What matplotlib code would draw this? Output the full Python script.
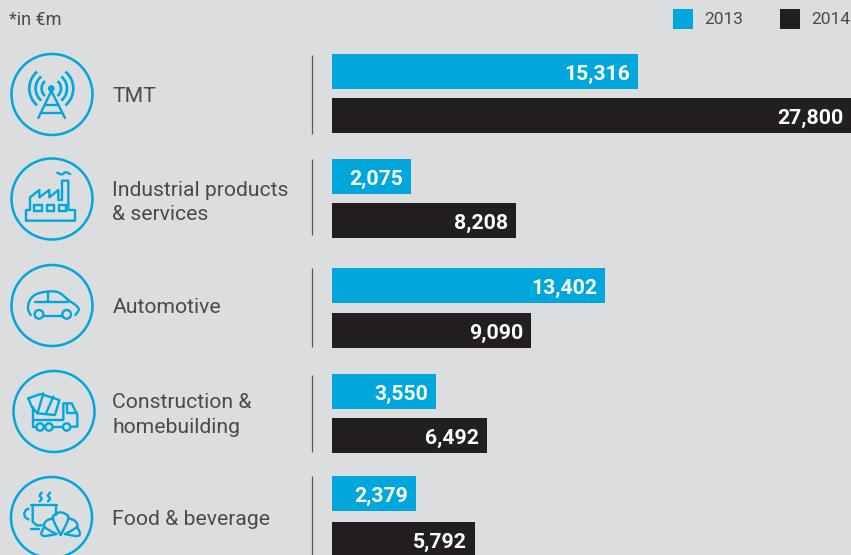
import numpy as np
import matplotlib
matplotlib.use('Agg')
import matplotlib.pyplot as plt
from matplotlib.patches import Circle, Arc, Rectangle

categories = ['TMT', 'Industrial products\n& services', 'Automotive',
              'Construction &\nhomebuilding', 'Food & beverage']
values_2013 = [15316, 2075, 13402, 3550, 2379]
values_2014 = [27800, 8208, 9090, 6492, 5792]
series_names = ['2013', '2014']

BLUE = '#00A7DD'
BLACK = '#231F20'
BG = '#DCDDDF'
TXT = '#4A4A4C'
W, H = 851, 555

plt.rcParams['font.family'] = ['Roboto', 'DejaVu Sans']

fig = plt.figure(figsize=(W / 100, H / 100), dpi=100, facecolor=BG)

# bars live in their own axes; the scale starts below zero so small bars stay readable
bar_left, px_per_unit = -2530, 0.01714
ax = fig.add_axes([332 / W, 0, (W - 332) / W, 1])
ax.set_xlim(bar_left, bar_left + (W - 332) / px_per_unit)
ax.set_ylim(H, 0)
ax.axis('off')

row_top = [54, 159, 268, 374, 476]
row_gap = [44, 44, 45, 44, 46]
bar_h = 35
for i in range(len(categories)):
    y13 = row_top[i] + bar_h / 2
    y14 = row_top[i] + row_gap[i] + bar_h / 2
    for y, v, c in ((y13, values_2013[i], BLUE), (y14, values_2014[i], BLACK)):
        ax.barh(y, v - bar_left, left=bar_left, height=bar_h, color=c, linewidth=0)
        ax.annotate(f'{v:,}', (v, y), xytext=(-8, -1), textcoords='offset pixels',
                    ha='right', va='center_baseline', color='white', fontsize=15.3,
                    fontweight='bold', annotation_clip=False)

# overlay in pixel coordinates for icons, rules and text
ov = fig.add_axes([0, 0, 1, 1], facecolor='none')
ov.set_xlim(0, W)
ov.set_ylim(H, 0)
ov.axis('off')

LW = 1.7


def line(pts, off=(0, 0), lw=LW, color=BLUE):
    p = np.array(pts, dtype=float) / 3 + np.array(off)
    ov.plot(p[:, 0], p[:, 1], color=color, lw=lw, solid_capstyle='round',
            solid_joinstyle='round')


def curve(pts, off=(0, 0), lw=LW, steps=12):
    # catmull-rom through the points, for the rounded outlines
    p = np.array(pts, dtype=float)
    p = np.vstack([p[0], p, p[-1]])
    out = []
    for i in range(1, len(p) - 2):
        for t in np.linspace(0, 1, steps, endpoint=False):
            out.append(0.5 * (2 * p[i] + (p[i + 1] - p[i - 1]) * t
                              + (2 * p[i - 1] - 5 * p[i] + 4 * p[i + 1] - p[i + 2]) * t ** 2
                              + (3 * p[i] - p[i - 1] - 3 * p[i + 1] + p[i + 2]) * t ** 3))
    out.append(p[-1])
    line(out, off, lw)


def wheel(x, y, r, off=(0, 0)):
    ov.add_patch(Circle((x / 3 + off[0], y / 3 + off[1]), r / 3, fill=False, ec=BLUE, lw=LW))


def squiggle(x0, y0, x1, y1, off=(0, 0), amp=4, n=4):
    # small wavy stroke for smoke and steam
    pts = []
    for k in range(n + 1):
        t = k / n
        s = amp if k % 2 else -amp
        dx, dy = (x1 - x0), (y1 - y0)
        L = np.hypot(dx, dy)
        pts.append((x0 + dx * t - dy / L * s, y0 + dy * t + dx / L * s))
    curve(pts, off)


# icon rings
for cx, cy in [(52, 94.5), (52, 199), (52, 305.5), (54, 411.5), (51.5, 517.5)]:
    ov.add_patch(Circle((cx, cy), 40.5, fill=False, ec=BLUE, lw=1.8))

# antenna
ov.add_patch(Circle((51.3, 88.5), 3.4, fc=BLUE, ec='none'))
for r in (9.7, 15.7, 22):
    for a, b in ((-50, 50), (130, 230)):
        ov.add_patch(Arc((51.3, 88.5), 2 * r, 2 * r, theta1=a, theta2=b, ec=BLUE, lw=LW + 0.2))
line([(153, 275), (115, 354)])
line([(155, 275), (195, 354)])
line([(135, 315), (175, 315)])
line([(122, 338), (187, 338)])

# factory
line([(78, 662), (225, 662), (225, 630), (205, 630), (205, 542), (186, 542), (186, 600),
      (175, 600), (175, 570), (148, 592), (148, 570), (118, 592), (118, 570), (90, 592),
      (90, 630), (78, 630), (78, 662)])
for x0 in (103, 140, 177):
    ov.add_patch(Rectangle((x0 / 3, 615 / 3), 22 / 3, 18 / 3, fill=False, ec=BLUE, lw=LW))
squiggle(172, 521, 210, 519, n=3, amp=3)

# car
car = (0, 250)
curve([(92, 195), (84, 175), (90, 150), (108, 133), (140, 125), (175, 127), (205, 150),
       (230, 168), (236, 180), (226, 195)], car)
line([(106, 155), (205, 155)], car)
line([(145, 125), (145, 155)], car)
wheel(117, 193, 13, car)
wheel(200, 193, 13, car)
line([(131, 197), (186, 197)], car)

# mixer truck
tr = (0, 250)
line([(85, 445), (122, 432), (178, 450), (165, 495), (112, 490), (96, 472), (85, 445)], tr)
line([(130, 430), (113, 488)], tr)
line([(160, 440), (138, 490)], tr)
line([(100, 472), (100, 532), (108, 532)], tr)
line([(100, 510), (190, 510)], tr)
line([(190, 510), (190, 460), (215, 460), (232, 495), (232, 530), (213, 530)], tr)
line([(200, 462), (200, 490), (230, 490)], tr)
line([(131, 532), (136, 532)], tr)
line([(158, 532), (188, 532)], tr)
wheel(120, 531, 11, tr)
wheel(147, 531, 11, tr)
wheel(200, 531, 11, tr)

# coffee cup and croissant
fd = (0, 250)
line([(92, 765), (170, 765)], fd)
line([(98, 765), (98, 815), (110, 826), (125, 826)], fd)
line([(168, 765), (168, 795)], fd)
ov.add_patch(Arc((88 / 3, 250 + 792 / 3), 30 / 3, 32 / 3, theta1=90, theta2=270, ec=BLUE, lw=LW))
line([(92, 838), (118, 838)], fd)
squiggle(122, 728, 122, 754, fd, amp=3, n=3)
squiggle(147, 728, 147, 754, fd, amp=3, n=3)
curve([(182, 855), (162, 815), (160, 798), (182, 787), (204, 798), (202, 815), (182, 855)], fd)
curve([(160, 805), (140, 812), (133, 830), (168, 852)], fd)
curve([(204, 805), (224, 812), (231, 830), (196, 852)], fd)
curve([(133, 830), (124, 850), (132, 858), (155, 855), (170, 852)], fd)
curve([(231, 830), (240, 850), (232, 858), (209, 855), (194, 852)], fd)

# separators beside the bars
for y0, y1 in [(55, 134), (159, 235), (268, 347), (375, 452), (476, 555)]:
    ov.plot([312, 312], [y0, y1], color='#58595B', lw=0.9, solid_capstyle='butt')

# category names
label_y = [96, 202.5, 307.5, 415, 519.5]
for name, y in zip(categories, label_y):
    ov.text(112.5, y, name, ha='left', va='center', fontsize=15.2, color=TXT,
            linespacing=1.38)

ov.text(9, 20, '*in €m', ha='left', va='center', fontsize=13, color=TXT)

# legend
for x, c, s in zip((673, 780), (BLUE, BLACK), series_names):
    ov.add_patch(Rectangle((x, 9), 20, 20, fc=c, ec='none'))
    ov.text(x + 31.5, 20, s, ha='left', va='center', fontsize=12.5, color=TXT)

fig.savefig('out.png', dpi=100, facecolor=BG)
